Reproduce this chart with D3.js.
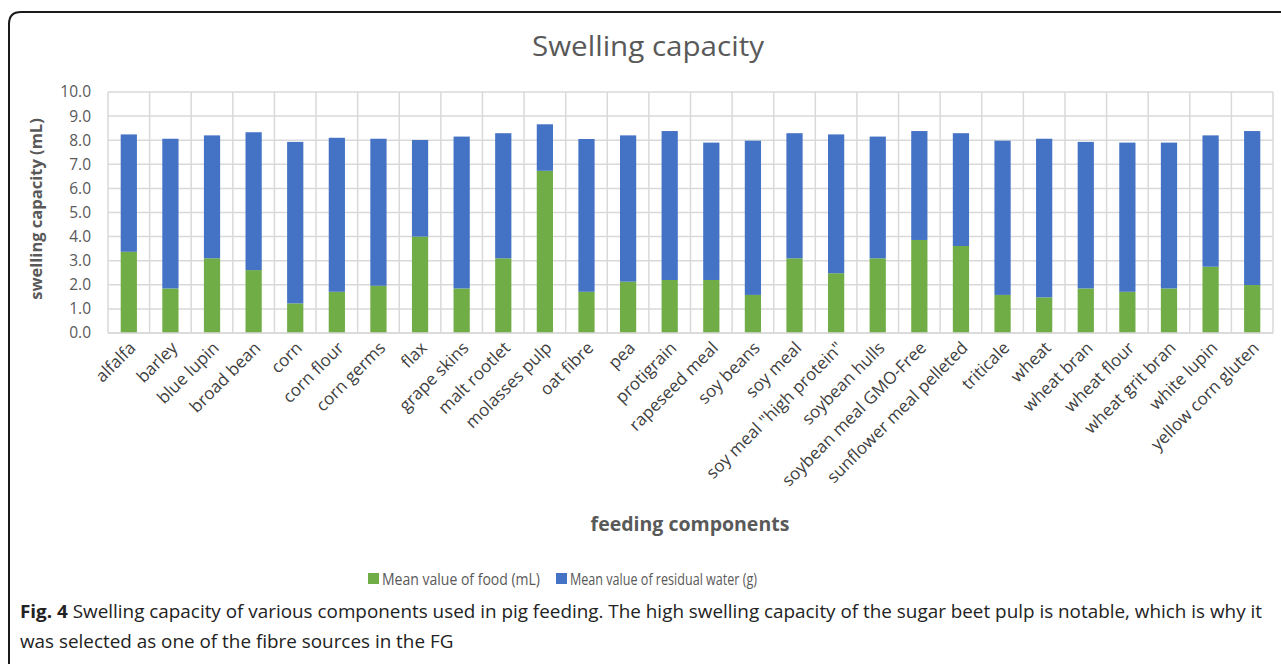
<!DOCTYPE html>
<html><head><meta charset="utf-8">
<script src="https://cdn.jsdelivr.net/npm/d3@7"></script>
<style>body{margin:0;background:#fff}svg{display:block}</style>
</head><body>
<svg id="c" width="1281" height="664"></svg>
<script>
const categories = ["alfalfa","barley","blue lupin","broad bean","corn","corn flour","corn germs","flax","grape skins","malt rootlet","molasses pulp","oat fibre","pea","protigrain","rapeseed meal","soy beans","soy meal","soy meal \"high protein\"","soybean hulls","soybean meal GMO-Free","sunflower meal pelleted","triticale","wheat","wheat bran","wheat flour","wheat grit bran","white lupin","yellow corn gluten"];
const foodValues = [3.37,1.85,3.1,2.61,1.23,1.71,1.96,4.0,1.85,3.1,6.73,1.71,2.13,2.2,2.2,1.58,3.1,2.48,3.1,3.86,3.61,1.58,1.48,1.85,1.71,1.85,2.75,1.99];
const waterValues = [4.87,6.21,5.1,5.72,6.7,6.39,6.1,4.01,6.3,5.19,1.93,6.34,6.07,6.18,5.7,6.4,5.19,5.76,5.05,4.52,4.68,6.4,6.58,6.08,6.19,6.05,5.45,6.39];
const yTicks = [0,1,2,3,4,5,6,7,8,9,10];
const seriesNames = ["Mean value of food (mL)","Mean value of residual water (g)"];
const colors = ["#70AD47","#4472C4"];

const svg = d3.select("#c");
const L = 108, R = 1273, T = 92, B = 333;
const x = d3.scaleBand().domain(categories).range([L, R]).paddingInner(0.61).paddingOuter(0.305);
const y = d3.scaleLinear().domain([0, 10]).range([B, T]);
const step = x.step();

// frame
svg.append("path").attr("d", `M9,664 L9,24 Q9,12 21,12 L1281,12`).attr("fill","none").attr("stroke","#1a1a1a").attr("stroke-width",2);

// title
svg.append("text").attr("x", 532).attr("y", 56)
  .attr("textLength", 232).attr("lengthAdjust","spacingAndGlyphs")
  .style("font-family","Open Sans").style("font-size","28px").attr("fill","#595959").text("Swelling capacity");

// grid horizontal
svg.append("g").selectAll("line").data(yTicks).join("line")
  .attr("x1", L).attr("x2", R).attr("y1", d => y(d)).attr("y2", d => y(d))
  .attr("stroke","#d9d9d9").attr("stroke-width",1.5);
// grid vertical at category boundaries
const bounds = d3.range(categories.length + 1).map(i => L + i * step);
svg.append("g").selectAll("line").data(bounds).join("line")
  .attr("x1", d => d).attr("x2", d => d).attr("y1", T).attr("y2", B)
  .attr("stroke","#d9d9d9").attr("stroke-width",1.5);

// y axis
const yAxis = svg.append("g").attr("transform", `translate(${L},0)`)
  .call(d3.axisLeft(y).tickValues(yTicks).tickFormat(d3.format(".1f")).tickSize(0).tickPadding(17));
yAxis.select(".domain").remove();
yAxis.selectAll("text").style("font-family","Open Sans").style("font-size","15.5px").attr("fill","#595959");

// stacked bars
const stackData = categories.map((c, i) => ({cat: c, food: foodValues[i], water: waterValues[i]}));
const stack = d3.stack().keys(["food","water"])(stackData);
svg.append("g").selectAll("g").data(stack).join("g").attr("fill", (d, i) => colors[i])
  .selectAll("rect").data(d => d).join("rect")
  .attr("x", d => x(d.data.cat)).attr("width", x.bandwidth())
  .attr("y", d => y(d[1])).attr("height", d => y(d[0]) - y(d[1]));

// bottom axis line
svg.append("line").attr("x1", L).attr("x2", R).attr("y1", B).attr("y2", B).attr("stroke","#d9d9d9").attr("stroke-width",1.5);

// x labels
const xAxis = svg.append("g").attr("transform", `translate(0,${B})`)
  .call(d3.axisBottom(x).tickSize(0).tickPadding(0));
xAxis.select(".domain").remove();
xAxis.selectAll("text").style("font-family","Open Sans").style("font-size","17px").attr("fill","#404040")
  .attr("text-anchor","end").attr("dy", null)
  .attr("transform", "translate(8,16) rotate(-45)");

// axis titles
svg.append("text").attr("transform", `translate(42,209) rotate(-90)`).attr("text-anchor","middle")
  .style("font-family","Open Sans").style("font-size","16.5px").style("font-weight","bold").attr("fill","#595959")
  .text("swelling capacity  (mL)");
svg.append("text").attr("x", 690).attr("y", 531).attr("text-anchor","middle")
  .style("font-family","Open Sans").style("font-size","19.5px").style("font-weight","bold").attr("fill","#595959")
  .text("feeding components");

// legend
const legX = [368, 556];
const legW = [158, 187];
const leg = svg.append("g").selectAll("g").data(seriesNames).join("g")
  .attr("transform", (d, i) => `translate(${legX[i]},573)`);
leg.append("rect").attr("width", 11).attr("height", 11).attr("fill", (d, i) => colors[i]);
leg.append("text").attr("x", 14).attr("y", 12).style("font-family","Open Sans").style("font-size","16.5px")
  .attr("textLength", (d, i) => legW[i]).attr("lengthAdjust","spacingAndGlyphs")
  .attr("fill","#595959").text(d => d);

// caption
const cap = svg.append("text").attr("x", 20).attr("y", 618).style("font-family","Open Sans").style("font-size","18px").attr("fill","#222");
cap.append("tspan").style("font-weight","bold").text("Fig. 4");
cap.append("tspan").text(" Swelling capacity of various components used in pig feeding. The high swelling capacity of the sugar beet pulp is notable, which is why it");
const cap2 = svg.append("text").attr("x", 20).attr("y", 648).style("font-family","Open Sans").style("font-size","18px").attr("fill","#222")
  .text("was selected as one of the fibre sources in the FG");
const w1 = cap.node().getComputedTextLength(), w2 = cap2.node().getComputedTextLength();
const k = 1242 / w1;
cap.attr("textLength", 1242).attr("lengthAdjust","spacingAndGlyphs");
cap2.attr("textLength", w2 * k).attr("lengthAdjust","spacingAndGlyphs");
</script>
</body></html>
